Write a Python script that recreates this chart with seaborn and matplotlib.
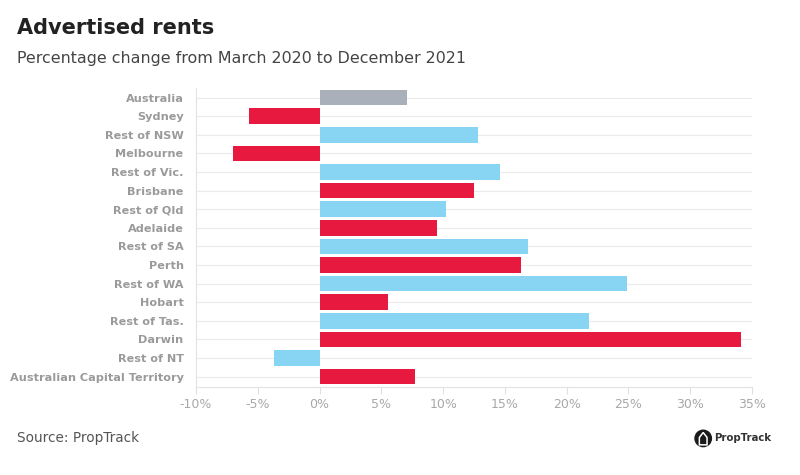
import matplotlib
matplotlib.use("Agg")
import matplotlib.pyplot as plt
import seaborn as sns
import pandas as pd
from matplotlib.patches import Ellipse, Polygon
from matplotlib.ticker import FuncFormatter

regions = ["Australia", "Sydney", "Rest of NSW", "Melbourne", "Rest of Vic.",
           "Brisbane", "Rest of Qld", "Adelaide", "Rest of SA", "Perth",
           "Rest of WA", "Hobart", "Rest of Tas.", "Darwin", "Rest of NT",
           "Australian Capital Territory"]
change = [7.1, -5.7, 12.8, -7.0, 14.6, 12.5, 10.2, 9.5, 16.9, 16.3,
          24.9, 5.5, 21.8, 34.1, -3.7, 7.7]
kind = ["national", "capital", "rest", "capital", "rest", "capital", "rest",
        "capital", "rest", "capital", "rest", "capital", "rest", "capital",
        "rest", "capital"]
xticks = [-10, -5, 0, 5, 10, 15, 20, 25, 30, 35]

colors = {"national": "#A9B0BA", "capital": "#E8193F", "rest": "#87D4F3"}

sns.set_theme(style="white")
plt.rcParams["font.family"] = ["DejaVu Sans"]

df = pd.DataFrame({"region": regions, "change": change, "kind": kind})

fig = plt.figure(figsize=(8, 4.75), dpi=100)
ax = fig.add_axes([0.245, 0.185, 0.695, 0.63])

for i in range(len(regions)):
    ax.axhline(i, color="#EBEBEB", lw=0.8, zorder=0)

sns.barplot(data=df, y="region", x="change", hue="kind", palette=colors,
            orient="h", width=0.84, legend=False, ax=ax, zorder=2,
            edgecolor="none", saturation=1)

ax.set_xlim(-10, 35)
ax.set_ylim(15.57, -0.52)
ax.set_xticks(xticks)
ax.xaxis.set_major_formatter(FuncFormatter(lambda v, p: f"{v:.0f}%"))
ax.set_xlabel("")
ax.set_ylabel("")
for s in ["top", "right"]:
    ax.spines[s].set_visible(False)
ax.spines["left"].set_color("#E3E3E3")
ax.spines["bottom"].set_color("#E3E3E3")
ax.spines["left"].set_linewidth(0.8)
ax.spines["bottom"].set_linewidth(0.8)
ax.tick_params(axis="x", colors="#E0E0E0", length=5, width=0.8, labelcolor="#A8A8A8",
               labelsize=9, pad=3, bottom=True)
ax.tick_params(axis="y", length=0, labelcolor="#9A9A9A", labelsize=8.1, pad=9)
for lbl in ax.get_yticklabels():
    lbl.set_fontweight("bold")

fig.text(0.021, 0.94, "Advertised rents", fontsize=15, fontweight="bold",
         color="#222222", va="center")
fig.text(0.021, 0.877, "Percentage change from March 2020 to December 2021",
         fontsize=11.4, color="#444444", va="center")
fig.text(0.021, 0.077, "Source: PropTrack", fontsize=9.8, color="#555555",
         va="center")

# logo
cx, cy = 0.879, 0.077
circ = Ellipse((cx, cy), 0.0205, 0.0205 * 800 / 475, transform=fig.transFigure,
               color="#1A1A1A")
fig.patches.append(circ)
house = Polygon([(cx - 0.0048, cy - 0.0135), (cx + 0.0048, cy - 0.0135),
                 (cx + 0.0048, cy + 0.002), (cx, cy + 0.0125),
                 (cx - 0.0048, cy + 0.002)], closed=True,
                transform=fig.transFigure, facecolor="#1A1A1A",
                edgecolor="white", lw=1.1)
fig.patches.append(house)
fig.text(0.893, 0.077, "PropTrack", fontsize=7.3, fontweight="bold",
         color="#333333", va="center")

fig.savefig("out.png", dpi=100, facecolor="white")
